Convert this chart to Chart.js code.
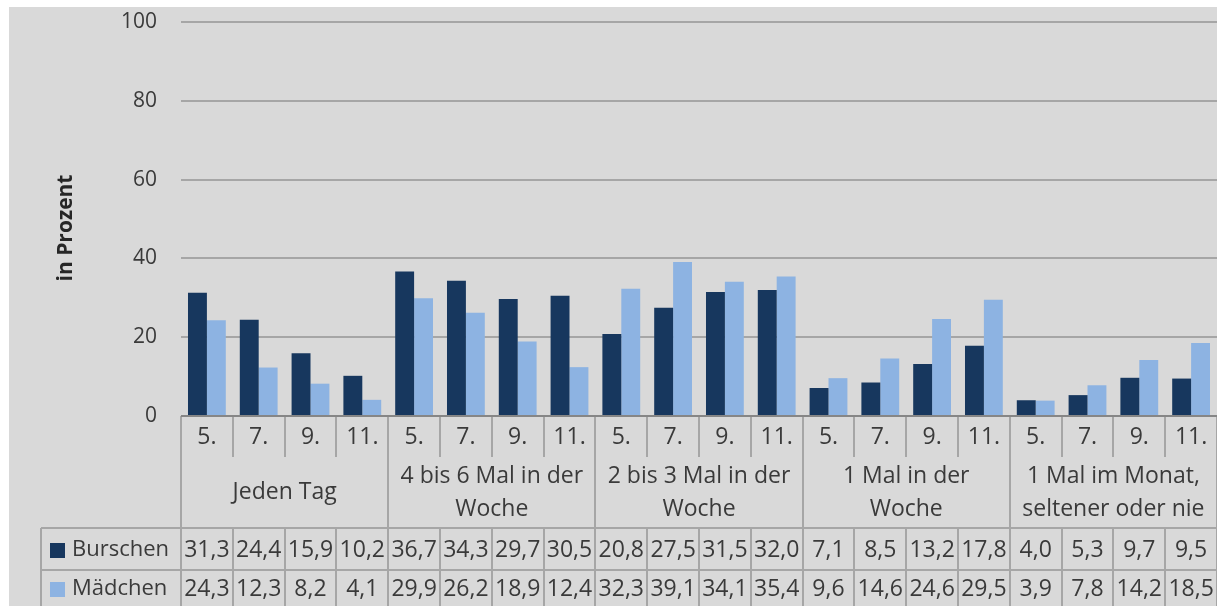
<!DOCTYPE html>
<html>
<head>
<meta charset="utf-8">
<script src="https://cdn.jsdelivr.net/npm/chart.js@4"></script>
<style>
  html, body { margin: 0; padding: 0; background: #ffffff; }
  #wrap { width: 1217px; height: 606px; }
</style>
</head>
<body>
<div id="wrap"><canvas id="chart" width="1217" height="606"></canvas></div>
<script>
// data
const grades = ['5.', '7.', '9.', '11.', '5.', '7.', '9.', '11.', '5.', '7.', '9.', '11.', '5.', '7.', '9.', '11.', '5.', '7.', '9.', '11.'];
const groups = [
  ['Jeden Tag'],
  ['4 bis 6 Mal in der', 'Woche'],
  ['2 bis 3 Mal in der', 'Woche'],
  ['1 Mal in der', 'Woche'],
  ['1 Mal im Monat,', 'seltener oder nie']
];
const seriesNames = ['Burschen', 'Mädchen'];
const burschen = [31.3, 24.4, 15.9, 10.2, 36.7, 34.3, 29.7, 30.5, 20.8, 27.5, 31.5, 32.0, 7.1, 8.5, 13.2, 17.8, 4.0, 5.3, 9.7, 9.5];
const maedchen = [24.3, 12.3, 8.2, 4.1, 29.9, 26.2, 18.9, 12.4, 32.3, 39.1, 34.1, 35.4, 9.6, 14.6, 24.6, 29.5, 3.9, 7.8, 14.2, 18.5];
const yTicks = [0, 20, 40, 60, 80, 100];

const colors = ['#17375e', '#8db3e2'];
const FONT = '"Open Sans", "Noto Sans", sans-serif';
const textColor = '#3a3a3a';
const lineColor = '#a6a6a6';

const fmt = v => v.toFixed(1).replace('.', ',');

// grey background + data table under the plot
const tablePlugin = {
  id: 'tablePlugin',
  beforeDraw(chart) {
    const ctx = chart.ctx;
    ctx.save();
    ctx.fillStyle = '#ffffff';
    ctx.fillRect(0, 0, chart.width, chart.height);
    ctx.fillStyle = '#d9d9d9';
    ctx.fillRect(9, 7, chart.width - 9, chart.height - 7);
    ctx.restore();
  },
  afterDraw(chart) {
    const ctx = chart.ctx;
    const x = chart.scales.x;
    const area = chart.chartArea;
    const n = grades.length;
    const colW = (area.right - area.left) / n;
    const yAxis = area.bottom;
    const row1 = yAxis + 41;   // grade row bottom
    const row2 = 528;          // group row bottom
    const row3 = 570;          // Burschen row bottom
    const row4 = chart.height; // Mädchen row bottom
    const legendLeft = 41;

    ctx.save();
    ctx.strokeStyle = lineColor;
    ctx.lineWidth = 2;
    const line = (x1, y1, x2, y2) => {
      ctx.beginPath(); ctx.moveTo(x1, y1); ctx.lineTo(x2, y2); ctx.stroke();
    };

    // vertical separators
    for (let i = 0; i <= n; i++) {
      const px = Math.round(x.getPixelForValue(i) - colW / 2);
      if (i % 4 === 0) {
        line(px, yAxis, px, row4);
      } else {
        line(px, yAxis, px, row1);
        line(px, row2, px, row4);
      }
    }
    // horizontal separators
    line(legendLeft, row2, area.right, row2);
    line(legendLeft, row3, area.right, row3);
    line(legendLeft, row2, legendLeft, row4);

    // x axis line
    ctx.strokeStyle = '#868686';
    line(area.left, yAxis, area.right, yAxis);

    ctx.fillStyle = textColor;
    ctx.font = '23px ' + FONT;
    ctx.textAlign = 'center';
    ctx.textBaseline = 'middle';

    grades.forEach((g, i) => {
      ctx.fillText(g, x.getPixelForValue(i), (yAxis + row1) / 2 + 1);
    });

    groups.forEach((lines, gi) => {
      const cx = (x.getPixelForValue(gi * 4) + x.getPixelForValue(gi * 4 + 3)) / 2;
      const mid = (row1 + row2) / 2;
      const lh = 33;
      lines.forEach((t, li) => {
        ctx.fillText(t, cx, mid + (li - (lines.length - 1) / 2) * lh);
      });
    });

    [burschen, maedchen].forEach((vals, si) => {
      const cy = si === 0 ? (row2 + row3) / 2 + 1 : (row3 + row4) / 2 + 1;
      ctx.font = '23px ' + FONT;
      vals.forEach((v, i) => {
        ctx.fillText(fmt(v), x.getPixelForValue(i), cy);
      });
      // legend key
      ctx.fillStyle = colors[si];
      ctx.fillRect(50, cy - 7, 15, 15);
      ctx.fillStyle = textColor;
      ctx.textAlign = 'left';
      ctx.font = '22px ' + FONT;
      ctx.fillText(seriesNames[si], 72, cy);
      ctx.textAlign = 'center';
    });

    // y axis title
    ctx.save();
    ctx.translate(66, 228);
    ctx.rotate(-Math.PI / 2);
    ctx.font = 'bold 21px ' + FONT;
    ctx.fillStyle = '#262626';
    ctx.fillText('in Prozent', 0, 0);
    ctx.restore();

    ctx.restore();
  }
};

new Chart(document.getElementById('chart').getContext('2d'), {
  type: 'bar',
  data: {
    labels: grades,
    datasets: [
      { label: seriesNames[0], data: burschen, backgroundColor: colors[0], borderWidth: 0 },
      { label: seriesNames[1], data: maedchen, backgroundColor: colors[1], borderWidth: 0 }
    ]
  },
  options: {
    responsive: false,
    animation: false,
    layout: { padding: { left: 9, top: 22, right: 0, bottom: 190 } },
    datasets: { bar: { categoryPercentage: 0.73, barPercentage: 1 } },
    plugins: { legend: { display: false }, tooltip: { enabled: false } },
    scales: {
      x: { display: false },
      y: {
        min: 0,
        max: 100,
        afterFit(scale) {
          scale.width = 172;
          scale.paddingTop = 0;
          scale.paddingBottom = 0;
        },
        afterBuildTicks(scale) { scale.ticks = yTicks.map(v => ({ value: v })); },
        border: { display: false },
        grid: { color: lineColor, lineWidth: 2, drawTicks: false },
        ticks: {
          padding: 24,
          color: textColor,
          font: { family: FONT, size: 21 }
        }
      }
    }
  },
  plugins: [tablePlugin]
});
</script>
</body>
</html>
